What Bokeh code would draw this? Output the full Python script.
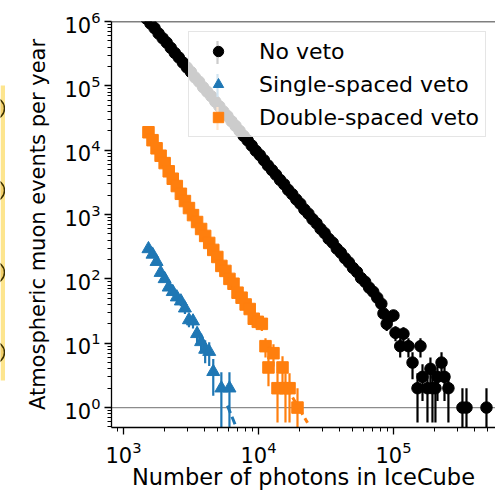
import math
from bokeh.plotting import figure
from bokeh.models import Range1d, FixedTicker, Span, Legend, LegendItem, BoxAnnotation
from bokeh.layouts import row
from bokeh.embed import file_html
from bokeh.resources import INLINE

# ---------------- data ----------------
noveto_x = [1479, 1585, 1698, 1820, 1950, 2089, 2239, 2399, 2570, 2754, 2951, 3162, 3388, 3631,
            3890, 4169, 4467, 4786, 5129, 5495, 5888, 6310, 6761, 7244, 7762, 8318, 8913, 9550,
            10233, 10965, 11749, 12589, 13490, 14454, 15488, 16596, 17783, 19055, 20417, 21878,
            23442, 25119, 26915, 28840, 30903, 33113, 35481, 38019, 40738, 43652, 46774, 50119,
            53703, 57544, 61660, 66069, 70795, 75858,
            81300, 84300, 89100, 92500, 100000, 103500, 112200, 118600, 129100, 138400, 150700,
            158500, 164100, 178600, 187900, 194500, 204600, 211800, 227000, 238800, 255300,
            324300, 347500, 488700]
noveto_y = [1.11e6, 9.3e5, 7.9e5, 6.5e5, 5.5e5, 4.7e5, 3.9e5, 3.25e5, 2.76e5, 2.3e5, 1.93e5,
            1.64e5, 1.35e5, 1.16e5, 9.5e4, 8.1e4, 6.9e4, 5.7e4, 4.8e4, 4.0e4, 3.4e4, 2.82e4,
            2.39e4, 2.0e4, 1.67e4, 1.42e4, 1.18e4, 9.8e3, 8.4e3, 7.0e3, 5.8e3, 4.9e3, 4.15e3,
            3.45e3, 2.95e3, 2.42e3, 2.07e3, 1.72e3, 1.47e3, 1.2e3, 1.03e3, 850, 730, 600, 515,
            420, 365, 295, 255, 210, 180, 148, 128, 103, 90, 73, 63, 51,
            41, 29, 20, 25, 27, 14.5, 9, 14, 9, 5, 2, 9, 3, 2, 4, 2, 2, 3, 5, 3, 2, 1, 1, 1]

single_x = [1531, 1641, 1758, 1884, 2018, 2163, 2317, 2483, 2661, 2851, 3055, 3273, 3508,
            3758, 4027, 4315, 4624, 5309, 6095]
single_y = [292, 240, 185, 125, 100, 74, 63, 52, 45, 35, 23, 22, 14, 10.5, 8, 7.4, 3.6, 2, 2]

double_x = [1531, 1641, 1758, 1884, 2018, 2163, 2317, 2483, 2661, 2851, 3055, 3273, 3508,
            3758, 4027, 4315, 4624, 4955, 5309, 5689, 6095, 6531, 6998, 7499, 8035, 8610,
            9226, 9886, 10593,
            11272, 11858, 12912, 13836, 15066, 15849, 16982, 19454]
double_y = [19000, 14300, 10700, 8200, 6300, 4700, 3600, 2770, 2100, 1620, 1260, 980, 765,
            596, 465, 362, 282, 219, 159, 133, 100, 84, 61, 51, 40, 34, 24, 21.5, 20,
            9, 4.2, 7, 2, 4.2, 2, 2, 1]

# dashed continuations below one event per year
single_tail_x = [5890, 7000]
single_tail_y = [1.07, 0.44]
double_tail_x = [17900, 23100]
double_tail_y = [1.43, 0.58]

# event weights used for the Poisson-like error bars
noveto_weight = 1.0
single_weight = 1.2
double_weight = 1.0

reference_rate = 1.0
x_limits = (815, 5.7e5)
y_limits = (0.49, 1.0e6)
x_major_ticks = [1e3, 1e4, 1e5]
y_major_ticks = [1e0, 1e1, 1e2, 1e3, 1e4, 1e5, 1e6]
labels = ["No veto", "Single-spaced veto", "Double-spaced veto"]

# left-edge decoration (cropped neighbouring panel), in canvas pixels
deco_top, deco_bottom = 85, 380
deco_circle_y = [108, 190, 272, 352]

FONT = "DejaVu Sans"
BLACK, BLUE, ORANGE = "#000000", "#1f77b4", "#ff7f0e"

# ---------------- main figure ----------------
p = figure(width=490, height=493, x_axis_type="log", y_axis_type="log",
           x_range=Range1d(*x_limits), y_range=Range1d(*y_limits),
           output_backend="svg", toolbar_location=None,
           min_border_left=106, min_border_right=0, min_border_top=21, min_border_bottom=66)
p.xgrid.visible = False
p.ygrid.visible = False
p.outline_line_color = None
p.background_fill_color = "white"

p.add_layout(Span(location=reference_rate, dimension="width", line_color="#8c8c8c",
                  line_width=1.2, level="underlay"))
p.add_layout(Span(location=y_limits[1], dimension="width", line_color="black", line_width=1.3))


def errbars(xs, ys, w):
    lo = [max(y - math.sqrt(y * w), 1e-3) for y in ys]
    hi = [y + math.sqrt(y * w) for y in ys]
    return lo, hi


series = [
    (noveto_x, noveto_y, noveto_weight, BLACK, "circle", 11.5),
    (single_x, single_y, single_weight, BLUE, "triangle", 13),
    (double_x, double_y, double_weight, ORANGE, "square", 11.5),
]
marker_renderers = []
for xs, ys, w, col, mk, sz in series:
    lo, hi = errbars(xs, ys, w)
    p.segment(x0=xs, y0=lo, x1=xs, y1=hi, line_color=col, line_width=2.2)
    r = p.scatter(x=xs, y=ys, marker=mk, size=sz, fill_color=col, line_color=col)
    marker_renderers.append(r)

p.line(single_tail_x, single_tail_y, line_color=BLUE, line_width=3, line_dash="8 4")
p.line(double_tail_x, double_tail_y, line_color=ORANGE, line_width=3, line_dash="8 4")

# axes
x_minor = [m * 10 ** e for e in range(2, 6) for m in range(2, 10)]
y_minor = [m * 10 ** e for e in range(-1, 6) for m in range(2, 10)]
p.xaxis.ticker = FixedTicker(ticks=x_major_ticks, minor_ticks=x_minor)
p.yaxis.ticker = FixedTicker(ticks=y_major_ticks, minor_ticks=y_minor)
for ax in (p.xaxis[0], p.yaxis[0]):
    ax.axis_line_width = 1.3
    ax.axis_line_color = "black"
    ax.major_tick_out = 7
    ax.major_tick_in = 0
    ax.minor_tick_out = 4
    ax.minor_tick_in = 0
    ax.major_tick_line_width = 1.3
    ax.minor_tick_line_width = 1
    ax.major_label_text_font = FONT
    ax.major_label_text_font_size = "21px"
    ax.major_label_text_color = "black"
    ax.axis_label_text_font = FONT
    ax.axis_label_text_font_style = "normal"
    ax.axis_label_text_color = "black"
p.xaxis.axis_label_text_font_size = "22.5px"
p.yaxis.axis_label_text_font_size = "21px"
p.xaxis.major_label_standoff = 6
p.xaxis.axis_label_standoff = -2
p.xaxis.axis_label_text_line_height = 1.0
p.yaxis.major_label_standoff = 4
p.yaxis.axis_label_standoff = 11
p.xaxis.axis_label = "Number of photons in IceCube"
p.yaxis.axis_label = "Atmospheric muon events per year"

# legend
leg_x, leg_y = 77, 290
pad, gw, gh, sp, standoff = 6, 46, 26, 7, 18
legend = Legend(items=[LegendItem(label=l, renderers=[r]) for l, r in zip(labels, marker_renderers)],
                location=(leg_x, leg_y), orientation="vertical", padding=pad, spacing=sp,
                glyph_width=gw, glyph_height=gh, label_height=gh, label_standoff=standoff,
                label_text_font=FONT, label_text_font_size="22px", label_text_color="black",
                border_line_color="#cccccc", border_line_width=1.3,
                background_fill_color="white", background_fill_alpha=0.8, margin=0)
p.add_layout(legend)

n = len(labels)
leg_h = 2 * pad + n * gh + (n - 1) * sp
cx = leg_x + pad + gw / 2
for i, col in enumerate([BLACK, BLUE, ORANGE]):
    cy = leg_y + leg_h - pad - gh / 2 - i * (gh + sp)
    p.add_layout(BoxAnnotation(left=cx - 1.1, right=cx + 1.1, bottom=cy - 11.5, top=cy + 11.5,
                               left_units="screen", right_units="screen",
                               bottom_units="screen", top_units="screen",
                               fill_color=col, fill_alpha=1.0, line_color=None, line_alpha=0))

# ---------------- left decoration ----------------
# the row aligns this frame with the main frame (canvas rows 21..427)
side = figure(width=5, height=493, x_range=Range1d(0, 5), y_range=Range1d(427, 21),
              output_backend="svg", toolbar_location=None, min_border=0)
side.axis.visible = False
side.xgrid.visible = False
side.ygrid.visible = False
side.outline_line_color = None
side.quad(left=0, right=5, top=deco_top, bottom=deco_bottom, fill_color="#fde58e", line_color=None)
side.circle(x=[-7] * len(deco_circle_y), y=deco_circle_y, radius=11, fill_color="#f1cf6a",
            line_color="#3b3000", line_width=1.5)

layout = row(side, p)
open("out.html", "w").write(file_html(layout, INLINE))
